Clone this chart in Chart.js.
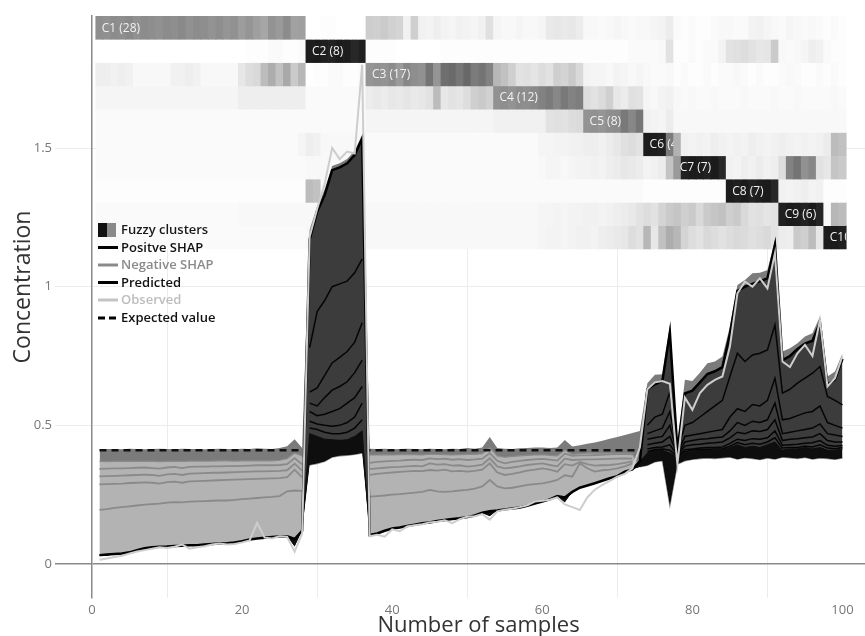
<!DOCTYPE html>
<html>
<head>
<meta charset="utf-8">
<title>SHAP decomposition with fuzzy clusters</title>
<script src="https://cdn.jsdelivr.net/npm/chart.js@4.4.1/dist/chart.umd.min.js"></script>
<style>
  html, body { margin: 0; padding: 0; background: #ffffff; }
  #c { display: block; }
</style>
</head>
<body>
<canvas id="c" width="865" height="636"></canvas>
<script>
// ---------- sample axis ----------
const samples = Array.from({ length: 100 }, (_, i) => i + 1);
const xTicks = [0, 20, 40, 60, 80, 100];
const yTicks = [0, 0.5, 1, 1.5];
const expectedValue = 0.41;

// ---------- concentration series (samples 1..100) ----------
const observed = [
  .015,.02,.025,.03,.038,.045,.05,.055,.06,.058,.062,.07,.055,.06,.064,.07,.074,.07,.072,.078,.085,.148,.095,.092,.10,.098,.045,.11,
  1.18,1.28,1.37,1.50,1.46,1.487,1.48,1.80,
  .10,.105,.099,.125,.118,.135,.14,.143,.15,.152,.158,.147,.162,.17,.172,.18,.16,.19,.196,.199,.205,.212,.225,.228,.232,.24,.215,.205,.195,.24,.268,.285,.30,.315,.325,.345,.42,
  .63,.655,.66,.65,.36,.60,.556,.616,.646,.664,.676,.784,.976,1.018,1.0,1.03,.994,1.12,.73,.71,.76,.79,.75,.88,.64,.67,.75
];
const predicted = [
  .032,.034,.036,.038,.042,.05,.057,.06,.062,.063,.065,.066,.068,.068,.07,.072,.074,.075,.078,.082,.088,.092,.095,.097,.099,.10,.09,.12,
  1.17,1.27,1.33,1.42,1.43,1.445,1.475,1.535,
  .105,.11,.12,.128,.132,.137,.142,.147,.15,.155,.159,.162,.165,.169,.175,.185,.19,.193,.197,.20,.204,.21,.218,.225,.233,.245,.24,.26,.275,.283,.291,.30,.309,.317,.333,.341,.37,
  .63,.648,.66,.835,.41,.615,.625,.655,.685,.695,.71,.83,.985,1.0,1.01,1.02,1.03,1.15,.735,.75,.775,.795,.805,.87,.645,.665,.74
];
// top of the SHAP stack
const stackTop = [
  .414,.415,.415,.414,.416,.415,.414,.415,.416,.415,.414,.416,.415,.415,.414,.415,.416,.415,.414,.416,.415,.417,.416,.415,.418,.425,.45,.418,
  1.205,1.29,1.35,1.435,1.445,1.46,1.49,1.548,
  .416,.415,.416,.414,.415,.416,.415,.414,.416,.415,.414,.416,.415,.418,.416,.42,.458,.418,.416,.415,.417,.418,.42,.42,.418,.42,.447,.424,.428,.434,.438,.444,.452,.458,.465,.472,.48,
  .652,.682,.684,.862,.43,.664,.66,.69,.724,.73,.748,.856,1.006,1.024,1.048,1.05,1.06,1.168,.766,.778,.796,.82,.832,.892,.676,.694,.76
];
// bottom of the SHAP stack
const stackBottom = [
  .028,.029,.036,.038,.042,.05,.057,.06,.062,.063,.065,.066,.068,.068,.07,.072,.074,.075,.078,.082,.088,.092,.095,.097,.099,.10,.062,.12,
  .357,.362,.37,.385,.39,.392,.395,.40,
  .105,.108,.118,.126,.132,.137,.142,.147,.15,.155,.159,.162,.165,.169,.175,.183,.172,.193,.197,.20,.204,.21,.218,.225,.233,.243,.222,.26,.275,.283,.291,.30,.309,.317,.333,.341,.35,
  .355,.368,.372,.21,.36,.372,.377,.38,.382,.38,.383,.385,.378,.383,.38,.376,.382,.378,.385,.383,.38,.384,.378,.382,.38,.377,.382
];
// lower edge of the small leading contributions (darker band under the top)
const leadBand = [
  .370,.369,.370,.370,.371,.370,.370,.371,.369,.370,.371,.370,.371,.371,.371,.371,.372,.372,.371,.372,.372,.373,.372,.372,.374,.38,.40,.39,
  .357,.362,.37,.385,.39,.392,.395,.40,
  .393,.393,.394,.393,.394,.395,.394,.393,.396,.395,.394,.393,.394,.395,.395,.398,.42,.39,.385,.388,.39,.392,.393,.394,.392,.39,.41,.395,.398,.40,.40,.40,.40,.40,.40,.398,.35,
  .355,.368,.372,.21,.36,.372,.377,.38,.382,.38,.383,.385,.378,.383,.38,.376,.382,.378,.385,.383,.38,.384,.378,.382,.38,.377,.382
];
// upper edge of the densely packed small positive contributions
const denseTop = [
  .032,.034,.036,.038,.042,.05,.057,.06,.062,.063,.065,.066,.068,.068,.07,.072,.074,.075,.078,.082,.088,.092,.095,.097,.099,.10,.09,.12,
  .47,.46,.45,.448,.446,.448,.46,.48,
  .105,.11,.12,.128,.132,.137,.142,.147,.15,.155,.159,.162,.165,.169,.175,.185,.19,.193,.197,.20,.204,.21,.218,.225,.233,.245,.24,.26,.275,.283,.291,.30,.309,.317,.333,.341,.37,
  .40,.41,.41,.40,.385,.40,.405,.41,.41,.41,.41,.42,.43,.42,.425,.42,.43,.44,.41,.415,.415,.42,.415,.42,.41,.41,.415
];

// ---------- cumulative negative SHAP lines (samples 1-28 and 37-72) ----------
const negLine1A = [.343,.344,.345,.345,.346,.347,.348,.346,.344,.348,.350,.346,.350,.351,.351,.352,.352,.353,.353,.354,.355,.356,.356,.356,.357,.360,.382,.359];
const negLine2A = [.316,.317,.318,.319,.320,.321,.322,.321,.318,.323,.325,.321,.326,.327,.328,.329,.329,.330,.331,.332,.333,.334,.334,.335,.336,.338,.362,.337];
const negLine3A = [.287,.288,.289,.290,.292,.293,.294,.293,.290,.295,.297,.293,.298,.299,.300,.301,.302,.303,.304,.305,.306,.307,.308,.309,.310,.313,.340,.312];
const negLine4A = [.195,.198,.202,.205,.208,.211,.214,.216,.218,.221,.223,.222,.225,.226,.227,.228,.229,.229,.231,.234,.236,.238,.240,.242,.245,.262,.265,.264];
const negLine1C = [.365,.368,.370,.372,.373,.375,.376,.375,.381,.378,.380,.376,.378,.375,.377,.380,.400,.372,.363,.368,.372,.375,.377,.379,.376,.373,.398,.390,.392,.392,.393,.394,.395,.396,.397,.395];
const negLine2C = [.342,.345,.347,.349,.350,.352,.354,.352,.363,.358,.360,.355,.356,.351,.354,.358,.381,.352,.345,.348,.352,.357,.360,.363,.357,.352,.380,.375,.376,.377,.377,.378,.379,.380,.381,.380];
const negLine3C = [.321,.325,.328,.330,.332,.334,.336,.335,.339,.337,.340,.334,.336,.333,.336,.340,.363,.330,.321,.325,.330,.337,.340,.345,.340,.333,.360,.355,.368,.360,.355,.356,.357,.360,.365,.370];
const negLine4C = [.243,.245,.247,.250,.252,.255,.257,.260,.267,.262,.260,.262,.265,.267,.272,.280,.303,.280,.273,.275,.280,.285,.288,.291,.296,.303,.320,.315,.363,.345,.333,.338,.340,.345,.352,.363];

// ---------- cumulative positive SHAP lines (samples 29-36 and 74-100) ----------
const posLine1B = [.78,.91,.95,1.0,1.01,1.02,1.05,1.10];
const posLine2B = [.62,.635,.68,.725,.745,.766,.80,.87];
const posLine3B = [.58,.57,.60,.627,.64,.657,.69,.735];
const posLine4B = [.55,.535,.54,.55,.56,.58,.60,.64];
const posLine5B = [.515,.505,.50,.497,.50,.51,.53,.58];
const posLine6B = [.49,.485,.475,.47,.47,.475,.49,.52];
const posLine1D = [.50,.53,.54,.62,.405,.50,.51,.53,.55,.57,.59,.676,.76,.73,.754,.76,.772,.862,.616,.63,.652,.67,.688,.712,.604,.59,.574];
const posLine2D = [.47,.48,.49,.55,.40,.46,.465,.47,.475,.48,.485,.53,.56,.55,.575,.57,.59,.67,.52,.525,.535,.545,.55,.57,.51,.50,.49];
const posLine3D = [.45,.455,.46,.50,.398,.44,.445,.45,.452,.455,.458,.48,.51,.50,.515,.51,.52,.58,.47,.475,.48,.485,.49,.505,.47,.465,.46];
const posLine4D = [.43,.435,.44,.46,.395,.425,.43,.432,.435,.437,.44,.455,.475,.47,.48,.478,.485,.52,.445,.45,.452,.455,.458,.47,.445,.44,.44];
const posLine5D = [.415,.42,.422,.43,.392,.412,.415,.418,.42,.42,.422,.435,.45,.445,.452,.45,.455,.48,.428,.43,.432,.435,.437,.445,.428,.425,.427];
const posLine6D = [.405,.413,.415,.41,.388,.405,.41,.413,.414,.415,.415,.425,.438,.43,.435,.432,.44,.455,.418,.42,.42,.425,.422,.43,.418,.416,.42];

// ---------- fuzzy cluster memberships, percent (samples 1..100) ----------
const clusterNames = ['C1','C2','C3','C4','C5','C6','C7','C8','C9','C10'];
const clusterSizes = [28, 8, 17, 12, 8, 4, 7, 7, 6, 3];
const rowEdges = [1.976, 1.892, 1.808, 1.724, 1.640, 1.556, 1.472, 1.388, 1.304, 1.220, 1.136];

const memC1 = [47,46,48,47,49,46,48,47,46,48,47,49,46,48,47,45,47,44,46,41,44,40,37,45,42,48,39,40,
  0,0,1,1,0,0,0,0,
  21,20,22,19,18,6,20,6,5,7,5,4,6,5,4,6,13,
  4,3,3,4,3,3,4,9,10,9,10,8,3,3,2,3,4,3,2,3,
  3,4,5,8,2,1,2,1,1,2,3,3,2,2,5,6,4,3,2,4,3,2,3,2,1,2,1];
const memC2 = [0,0,0,0,0,0,0,0,0,0,0,0,0,0,0,0,0,0,0,0,1,1,1,2,2,1,1,2,
  94,95,93,92,95,94,90,93,
  1,1,1,1,0,0,0,0,0,0,1,1,1,1,1,1,1,
  1,1,1,1,1,1,1,1,1,1,1,1,1,1,1,1,1,1,2,2,
  2,2,3,12,1,1,2,1,2,2,5,12,13,14,12,10,11,22,3,2,3,4,7,6,2,1,1];
const memC3 = [7,7,6,7,6,3,3,3,3,3,6,6,7,6,3,3,3,3,3,10,14,16,28,34,26,36,22,30,
  0,1,1,2,2,1,1,2,
  44,46,45,48,42,50,47,46,58,44,60,62,57,63,55,58,52,
  30,26,20,12,13,11,14,12,20,18,22,16,5,4,4,3,5,4,3,4,
  3,2,2,3,1,2,1,1,2,1,2,2,3,2,1,2,1,1,2,3,2,1,1,2,1,2,1];
const memC4 = [4,4,4,4,4,4,4,4,4,4,4,4,4,4,4,4,4,4,4,7,7,7,7,7,7,7,7,7,
  2,2,2,2,2,2,2,2,
  8,9,8,10,9,11,9,10,12,28,10,12,11,14,20,22,19,
  46,47,45,48,47,49,52,55,50,56,52,54,14,12,15,20,10,8,13,12,
  4,3,5,6,3,2,3,2,2,3,2,2,2,3,2,2,2,3,2,2,3,2,2,2,2,3,2];
const memC5 = [2,2,2,2,2,2,2,2,2,2,2,2,2,2,2,2,2,2,2,2,2,2,2,2,2,2,2,2,
  2,2,2,2,2,2,2,2,
  4,4,4,4,4,4,4,4,4,4,4,4,4,4,4,4,4,
  6,6,6,6,6,6,6,12,13,12,14,15,45,46,44,47,48,56,50,57,
  6,5,4,8,3,3,3,3,3,3,3,3,3,3,3,3,3,3,3,3,3,3,3,3,3,3,3];
const memC6 = [2,2,2,2,2,2,2,2,2,2,2,2,2,2,2,2,2,2,2,2,2,2,2,2,2,2,2,4,
  7,6,3,3,3,3,3,3,
  2,2,2,2,2,2,2,2,2,2,2,2,2,2,2,2,2,
  2,2,2,2,2,2,4,4,5,5,6,6,7,7,6,8,10,13,14,12,
  95,94,93,55,32,6,5,6,5,7,6,5,6,5,7,6,5,6,7,6,5,6,5,6,8,28,26];
const memC7 = [2,2,2,2,2,2,2,2,2,2,2,2,2,2,2,2,2,2,2,2,2,2,2,2,2,2,2,2,
  3,3,3,3,3,3,3,3,
  2,2,2,2,2,2,2,2,2,2,2,2,2,2,2,2,2,
  2,2,2,2,2,2,3,4,4,3,4,5,5,6,5,7,8,10,9,8,
  5,6,8,25,42,93,95,94,92,95,90,6,5,7,6,8,6,7,14,52,58,46,50,12,10,24,22];
const memC8 = [1,1,1,1,1,1,1,1,1,1,1,1,1,1,1,1,1,1,1,1,1,1,1,1,1,1,1,1,
  28,26,3,3,3,3,3,3,
  2,2,2,2,2,2,2,2,2,2,2,2,2,2,2,2,2,
  2,2,2,2,2,2,2,2,2,2,2,2,2,2,2,2,2,2,2,2,
  1,1,1,1,1,1,1,1,1,1,1,94,93,95,92,94,95,90,6,5,6,7,5,6,1,1,1];
const memC9 = [2,2,2,2,2,2,2,2,2,2,2,2,2,2,2,2,2,2,2,3,3,3,3,3,3,3,3,3,
  3,3,3,3,3,3,3,3,
  3,3,3,3,3,3,3,3,3,3,3,3,3,3,3,3,3,
  3,3,3,3,3,3,4,4,5,4,5,5,6,6,5,6,7,8,9,12,
  14,12,18,22,24,20,22,16,22,24,26,20,22,16,12,13,11,12,93,95,94,92,95,91,2,30,28];
const memC10 = [2,2,2,2,2,2,2,2,2,2,2,2,2,2,2,2,2,2,2,2,2,2,2,2,2,2,2,2,
  3,3,3,3,3,3,3,3,
  3,3,3,3,3,3,3,3,3,3,3,3,3,3,3,3,3,
  3,3,3,3,3,3,4,5,5,4,5,6,6,5,7,8,9,10,14,12,
  30,10,26,34,30,18,14,12,16,14,12,14,16,15,13,14,16,12,8,7,22,20,28,10,94,95,93];
const memberships = [memC1, memC2, memC3, memC4, memC5, memC6, memC7, memC8, memC9, memC10];

// ---------- helpers ----------
const xy = arr => samples.map((s, i) => ({ x: s, y: arr[i] }));
const pieces = (startA, a, startB, b) => [
  ...a.map((v, i) => ({ x: startA + i, y: v })),
  { x: (startA + a.length - 1 + startB) / 2, y: null },
  ...b.map((v, i) => ({ x: startB + i, y: v }))
];
const shade = m => { const g = Math.round(255 - 2.4 * m); return `rgb(${g},${g},${g})`; };

const COL = {
  lead: '#7b7b7b', neg: '#b3b3b3', pos: '#3c3c3c', dense: '#0e0e0e',
  negLine: '#8a8a8a', posLine: '#050505', obs: '#cdcdcd'
};
const IDX_BOTTOM = 1;
const plain = { pointRadius: 0, tension: 0, fill: false };

const datasets = [
  // 0: whole stack, filled with the leading-contribution grey
  { ...plain, data: xy(stackTop), borderWidth: 0, borderColor: 'rgba(0,0,0,0)',
    fill: { target: IDX_BOTTOM, above: COL.lead, below: 'rgba(0,0,0,0)' }, order: 50 },
  // 1: stack bottom (fill target)
  { ...plain, data: xy(stackBottom), borderWidth: 0, borderColor: 'rgba(0,0,0,0)', order: 49 },
  // 2: negative SHAP area
  { ...plain, data: xy(leadBand), borderWidth: 1.2, borderColor: COL.negLine,
    fill: { target: IDX_BOTTOM, above: COL.neg, below: 'rgba(0,0,0,0)' }, order: 48 },
  // 3: expected value
  { ...plain, data: [{ x: 1, y: expectedValue }, { x: 100, y: expectedValue }],
    borderColor: '#111', borderWidth: 2.5, borderDash: [7, 5], order: 47 },
  // 4-7: negative SHAP lines
  ...[[negLine1A, negLine1C], [negLine2A, negLine2C], [negLine3A, negLine3C], [negLine4A, negLine4C]]
    .map(([a, c]) => ({ ...plain, data: pieces(1, a, 37, c), borderColor: COL.negLine, borderWidth: 1.8, order: 46 })),
  // 8: positive SHAP area
  { ...plain, data: xy(predicted), borderWidth: 0, borderColor: 'rgba(0,0,0,0)',
    fill: { target: IDX_BOTTOM, above: COL.pos, below: 'rgba(0,0,0,0)' }, order: 45 },
  // 9: densely packed small positive contributions
  { ...plain, data: xy(denseTop), borderWidth: 1, borderColor: COL.dense,
    fill: { target: IDX_BOTTOM, above: COL.dense, below: 'rgba(0,0,0,0)' }, order: 44 },
  // 10-15: positive SHAP lines
  ...[[posLine1B, posLine1D], [posLine2B, posLine2D], [posLine3B, posLine3D],
      [posLine4B, posLine4D], [posLine5B, posLine5D], [posLine6B, posLine6D]]
    .map(([b, d]) => ({ ...plain, data: pieces(29, b, 74, d), borderColor: COL.posLine, borderWidth: 1.5, order: 43 })),
  // 16: predicted
  { ...plain, data: xy(predicted), borderColor: '#000', borderWidth: 2.5, order: 42 },
  // 17: observed
  { ...plain, data: xy(observed), borderColor: COL.obs, borderWidth: 2, order: 41 }
];

// heatmap rows as floating bars, one cell per sample
memberships.forEach((mem, r) => {
  datasets.push({
    type: 'bar', order: 60, grouped: false,
    barPercentage: 1, categoryPercentage: 1, borderWidth: 0,
    data: samples.map(s => ({ x: s, y: [rowEdges[r + 1], rowEdges[r]] })),
    backgroundColor: mem.map(shade)
  });
});

// ---------- annotations: cluster tags, legend, axis titles ----------
const annotate = {
  id: 'annotate',
  afterDatasetsDraw(chart) {
    const { ctx, scales: { x, y } } = chart;
    ctx.save();
    ctx.font = '12px "Open Sans", sans-serif';
    ctx.fillStyle = '#f2f2f2';
    ctx.textBaseline = 'middle';
    ctx.textAlign = 'left';
    let start = 1;
    clusterNames.forEach((name, r) => {
      const size = clusterSizes[r];
      const left = x.getPixelForValue(start - 0.5);
      const right = x.getPixelForValue(start + size - 0.5);
      const top = y.getPixelForValue(rowEdges[r]);
      const bottom = y.getPixelForValue(rowEdges[r + 1]);
      ctx.save();
      ctx.beginPath();
      ctx.rect(left, top, right - left, bottom - top);
      ctx.clip();
      ctx.fillText(`${name} (${size})`, left + 6, (top + bottom) / 2 + 0.5);
      ctx.restore();
      start += size;
    });
    ctx.restore();
  },
  afterDraw(chart) {
    const { ctx, chartArea } = chart;
    ctx.save();
    // legend
    const lx = 98, tx = 121;
    const rows = [230, 247.5, 265, 282.5, 300, 318];
    ctx.fillStyle = '#111';
    ctx.fillRect(lx, 223, 9, 14);
    ctx.fillStyle = '#8a8a8a';
    ctx.fillRect(lx + 9, 223, 9, 14);
    const items = [
      { text: 'Fuzzy clusters', color: '#1a1a1a' },
      { text: 'Positve SHAP', color: '#111', line: '#000' },
      { text: 'Negative SHAP', color: '#8a8a8a', line: '#8a8a8a' },
      { text: 'Predicted', color: '#111', line: '#000' },
      { text: 'Observed', color: '#bdbdbd', line: '#c4c4c4' },
      { text: 'Expected value', color: '#111', line: '#000', dash: true }
    ];
    ctx.font = '600 13px "Open Sans", sans-serif';
    ctx.textBaseline = 'middle';
    ctx.textAlign = 'left';
    items.forEach((it, i) => {
      const yy = rows[i];
      if (it.line) {
        ctx.strokeStyle = it.line;
        ctx.lineWidth = 3;
        ctx.setLineDash(it.dash ? [7, 4] : []);
        ctx.beginPath();
        ctx.moveTo(lx, yy);
        ctx.lineTo(lx + 20, yy);
        ctx.stroke();
        ctx.setLineDash([]);
      }
      ctx.fillStyle = it.color;
      ctx.fillText(it.text, tx, yy + 0.5);
    });
    // axis titles
    ctx.fillStyle = '#333';
    ctx.font = '22px "Open Sans", sans-serif';
    ctx.textAlign = 'center';
    ctx.textBaseline = 'alphabetic';
    ctx.fillText('Number of samples', (chartArea.left + chartArea.right) / 2, 632);
    ctx.font = '23px "Open Sans", sans-serif';
    ctx.translate(30, 287);
    ctx.rotate(-Math.PI / 2);
    ctx.fillText('Concentration', 0, 0);
    ctx.restore();
  }
};

Chart.defaults.font.family = '"Open Sans", sans-serif';

new Chart(document.getElementById('c'), {
  type: 'line',
  data: { datasets },
  plugins: [annotate],
  options: {
    responsive: false,
    devicePixelRatio: 1,
    animation: false,
    events: [],
    layout: { padding: { top: 16, right: 0, bottom: 0, left: 0 } },
    plugins: { legend: { display: false }, tooltip: { enabled: false } },
    scales: {
      x: {
        type: 'linear', min: 0, max: 103, offset: false,
        afterFit: s => { s.height = 38; },
        afterBuildTicks: s => { s.ticks = xTicks.map(v => ({ value: v })); },
        grid: {
          drawTicks: false,
          color: c => (c.tick && c.tick.value === 0) ? 'rgba(0,0,0,0)' : '#ececec',
          lineWidth: 1
        },
        border: { display: false },
        ticks: { color: '#777', font: { size: 13 }, padding: 4, maxRotation: 0, callback: v => String(v) }
      },
      y: {
        type: 'linear', min: -0.1226, max: 1.976,
        afterFit: s => { s.width = 92; },
        afterBuildTicks: s => { s.ticks = yTicks.map(v => ({ value: v })); },
        grid: {
          tickLength: 37,
          color: c => (c.tick && c.tick.value === 0) ? '#8a8a8a' : '#ececec',
          lineWidth: c => (c.tick && c.tick.value === 0) ? 1.5 : 1
        },
        border: { display: true, color: '#8a8a8a', width: 1.5 },
        ticks: { color: '#777', font: { size: 13 }, padding: 3, callback: v => String(v) }
      }
    }
  }
});
</script>
</body>
</html>
